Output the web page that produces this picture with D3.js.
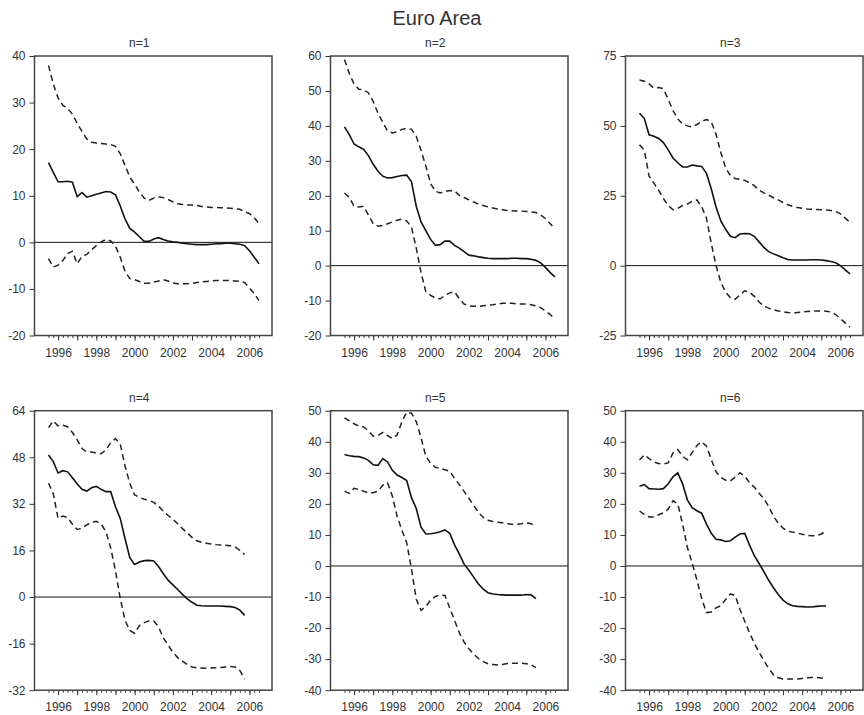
<!DOCTYPE html>
<html>
<head>
<meta charset="utf-8">
<script src="https://cdn.jsdelivr.net/npm/d3@7"></script>
<style>
  body { margin: 0; background: #fff; }
  svg text { font-family: "Liberation Sans", Arial, sans-serif; fill: #333; }
</style>
</head>
<body>
<svg id="chart" width="864" height="715"></svg>
<script>
// quarterly observations, first one is 1995Q3
const startYear = 1995.5;
const lastYear = 2006.5;

const panelTitles = ["n=1", "n=2", "n=3", "n=4", "n=5", "n=6"];
const yDomains = [[-20, 40], [-20, 60], [-25, 75], [-32, 64], [-40, 50], [-40, 50]];
const yTicks = [
  [-20, -10, 0, 10, 20, 30, 40],
  [-20, -10, 0, 10, 20, 30, 40, 50, 60],
  [-25, 0, 25, 50, 75],
  [-32, -16, 0, 16, 32, 48, 64],
  [-40, -30, -20, -10, 0, 10, 20, 30, 40, 50],
  [-40, -30, -20, -10, 0, 10, 20, 30, 40, 50]
];
const yearTicks = [1996, 1997, 1998, 1999, 2000, 2001, 2002, 2003, 2004, 2005, 2006];

// point estimate (solid) and bands (dashed)
const n1Mid = [17.1,15,13,13,13.1,12.9,9.8,10.7,9.7,10,10.3,10.6,10.9,10.8,10.2,7.8,5.0,3.0,2.2,1.2,0.2,0.2,0.7,1.0,0.6,0.3,0.1,0,-0.2,-0.3,-0.4,-0.5,-0.5,-0.5,-0.4,-0.3,-0.3,-0.2,-0.2,-0.3,-0.4,-0.7,-1.8,-3.2,-4.6];
const n1Up = [38,34,31,29.4,28.8,27.5,25.5,23.8,22.2,21.5,21.3,21.2,21.1,21,20.6,19,16.5,14,12.5,10.8,9.5,9,9.5,9.8,9.6,9.2,8.7,8.3,8.1,8.0,8.0,7.9,7.7,7.6,7.5,7.5,7.4,7.4,7.3,7.2,7.1,6.6,6.2,5.3,4.0];
const n1Lo = [-3.5,-5.3,-4.9,-3.9,-2.4,-1.9,-4.6,-3,-2.6,-1.6,-0.7,0.1,0.6,0.3,-0.8,-3.2,-6.2,-7.8,-8.0,-8.4,-8.8,-8.8,-8.5,-8.3,-8.0,-8.3,-8.7,-8.9,-8.9,-8.9,-8.8,-8.6,-8.5,-8.4,-8.3,-8.2,-8.2,-8.2,-8.2,-8.3,-8.4,-8.6,-9.8,-11,-12.5];

const n2Mid = [39.7,37.5,34.8,34,33.3,31.5,29,27,25.6,25.1,25.2,25.5,25.8,25.9,24,17,12.5,10,7.5,5.8,6,7,7,5.8,5,4,3,2.8,2.5,2.3,2.1,2,2,2,2,2.1,2.1,2,2,1.8,1.5,0.8,-0.5,-2,-3.2];
const n2Up = [59,55,52,50.5,50.3,49.5,47,43.6,41,38.5,38,38.3,39,39.3,39,37,33,28.5,23.5,21.3,20.8,21.2,21.5,21.4,20.1,19.5,18.8,18.2,17.6,17.2,16.8,16.5,16.2,16,15.8,15.7,15.6,15.6,15.5,15.4,15.2,14.5,13.5,12,10.5];
const n2Lo = [20.8,19.5,17,16.8,17,14.5,12,11.3,11.5,12,12.5,13,13.3,12.8,11,5,-2,-7.5,-8.5,-9.3,-9.5,-8.5,-7.8,-7.5,-9.5,-11,-11.5,-11.6,-11.7,-11.5,-11.3,-11.2,-11,-10.8,-10.8,-10.8,-10.9,-11,-11,-11.2,-11.5,-12,-13,-14,-15.2];

const n3Mid = [54.5,52.7,46.8,46.3,45.5,44,41.4,38.5,36.8,35.3,35.3,36,35.7,35.5,33,27.5,21,16,13,10.5,10,11.3,11.5,11.4,10.5,8.5,6.5,5,4.2,3.5,2.8,2.2,2,2,2,2,2.1,2.1,2,1.8,1.5,1,0,-1.5,-3];
const n3Up = [66.4,66,65,63.5,63.7,63.3,59.5,55.5,52.5,50.6,50,49.6,50.5,51.6,52.3,51.5,47,40.5,35,32.2,31.2,30.9,30.5,29.6,28.6,27,26,25.2,24.3,23.5,22.6,21.8,21.2,20.8,20.5,20.3,20.2,20.1,20,19.9,19.7,19.4,18.5,17,15.5];
const n3Lo = [43.2,41.4,32,29.5,27,24,21.5,20,20.5,21.5,22,23,23.5,21,17,8,0,-6,-9.5,-11.5,-12,-10.5,-9,-9.5,-11,-13,-14.5,-15.2,-15.8,-16.2,-16.5,-16.8,-17,-16.8,-16.6,-16.4,-16.3,-16.2,-16.2,-16.3,-16.6,-17.5,-19,-20.5,-22];

const n4Mid = [48.8,46.5,42.6,43.4,43,41,38.8,37,36.4,37.5,38,37,36.2,36.2,31,27,20,13.5,11.2,12,12.5,12.6,12.4,10.5,8,5.8,4.2,2.6,0.9,-0.6,-1.8,-2.8,-3,-3.1,-3.1,-3.1,-3.1,-3.2,-3.3,-3.6,-4.5,-6.3];
const n4Up = [58.2,60.5,58.8,59,58.5,56.5,54,51,49.9,49.8,49.4,49.2,50.5,53,54.4,52.5,45,39,35.1,34.2,33.6,33.2,32.5,31.2,29.5,28,26.8,25.2,23.5,22,20.5,19.3,18.8,18.5,18.2,18,17.9,17.8,17.6,17.2,16,14.6];
const n4Lo = [39.1,35.5,27,27.8,27.3,25,23.2,23.6,24.8,25.7,26,25,22.5,16.9,9,-0.5,-8,-11.5,-12.5,-9.8,-8.8,-8.2,-8.2,-10.2,-14,-16.5,-19,-20.8,-22,-23.2,-24,-24.3,-24.4,-24.5,-24.4,-24.3,-24.2,-24,-23.9,-24,-25.2,-28.2];

const n5Mid = [35.9,35.5,35.3,35.2,34.8,34,32.6,32.4,34.6,33.5,30.8,29.3,28.5,27.5,22,18.5,12.5,10.3,10.4,10.6,11,11.6,10.5,6.8,3.8,0.6,-1.4,-3.6,-5.8,-7.5,-8.6,-9,-9.2,-9.3,-9.4,-9.4,-9.4,-9.4,-9.2,-9.3,-10.5];
const n5Up = [47.7,46.7,45.8,45,44.8,43.5,41.8,42,43,42,41,42.2,46.5,49.5,49.2,46.5,41.3,35.3,33,31.8,31.4,31,30.5,28.2,26.2,24,21.8,19.5,17.3,15.6,14.7,14.3,14.1,13.9,13.6,13.4,13.4,13.6,14,13.6,12.8];
const n5Lo = [24.1,23.4,25,24.6,24.1,23.5,23.6,24.1,26,26.8,22.5,16,11.5,7.5,-1,-10.7,-14.3,-13,-11,-9.8,-9.3,-9.5,-13.5,-17.5,-21.5,-24.5,-26.7,-28.4,-29.8,-30.8,-31.5,-31.7,-31.9,-31.7,-31.4,-31.3,-31.3,-31.3,-31.5,-31.8,-32.7];

const n6Mid = [25.7,26.2,24.9,24.8,24.7,24.9,26.5,28.7,30,26.5,21.3,18.8,17.8,17,13.5,10.5,8.6,8.4,7.9,8.1,9.3,10.3,10.5,6.7,3.3,0.8,-1.8,-4.6,-7,-9.2,-11,-12.2,-12.8,-13,-13.1,-13.2,-13.2,-13,-12.9,-12.9];
const n6Up = [34.1,35.8,34.6,33.5,33,32.8,33.2,36.4,37.5,35.3,34.2,36.5,38.8,40,38.6,34.3,30.3,28.5,27.6,27.4,28.6,30,28.9,26.8,25.4,23.4,21.7,19.2,16,13.8,12.2,11.2,10.9,10.6,10.2,9.9,9.7,9.7,10.3,11.3];
const n6Lo = [17.7,16.6,15.8,15.8,16.5,17.1,18.3,21,20,13.5,6,1,-4.5,-10.5,-15,-14.8,-13.5,-12.8,-10.8,-9,-9.5,-14,-17.8,-21.5,-24.9,-27.8,-30.5,-33,-35,-36,-36.4,-36.4,-36.4,-36.4,-36.2,-36,-35.9,-35.9,-36.1,-36.2];

const mids = [n1Mid, n2Mid, n3Mid, n4Mid, n5Mid, n6Mid];
const ups = [n1Up, n2Up, n3Up, n4Up, n5Up, n6Up];
const los = [n1Lo, n2Lo, n3Lo, n4Lo, n5Lo, n6Lo];

const svg = d3.select("#chart");

svg.append("text")
  .attr("x", 437).attr("y", 25)
  .attr("text-anchor", "middle")
  .style("font-size", "20px")
  .text("Euro Area");

const colLeft = [34.5, 330.5, 625.5];
const rowTop = [56, 410.7];
const w = 237.5, h = 279.5;

const quarters = d3.range(0, 45).map(i => startYear + i * 0.25);

panelTitles.forEach((title, k) => {
  const left = colLeft[k % 3], top = rowTop[Math.floor(k / 3)];
  const g = svg.append("g").attr("transform", `translate(${left},${top})`);

  const x = d3.scaleLinear().domain([startYear, lastYear]).range([14, 224.5]);
  const y = d3.scaleLinear().domain(yDomains[k]).range([h, 0]);

  g.append("text")
    .attr("x", w / 2 - 14).attr("y", -9)
    .attr("text-anchor", "middle")
    .style("font-size", "12px")
    .text(title);

  // minor quarterly ticks
  const minor = g.append("g").attr("transform", `translate(0,${h})`)
    .call(d3.axisBottom(x).tickValues(quarters).tickSize(2.5).tickFormat(""));
  minor.select(".domain").remove();

  const xAxis = g.append("g").attr("transform", `translate(0,${h})`)
    .call(d3.axisBottom(x).tickValues(yearTicks).tickSize(5).tickPadding(7.5)
      .tickFormat(d => d % 2 === 0 ? String(d) : ""));
  xAxis.select(".domain").remove();
  xAxis.selectAll("text").style("font-size", "12px");

  // plain hyphen for negatives, like the original
  const yAxis = g.append("g")
    .call(d3.axisLeft(y).tickValues(yTicks[k]).tickSize(5).tickPadding(4)
      .tickFormat(d => String(d)));
  yAxis.select(".domain").remove();
  yAxis.selectAll("text").style("font-size", "12px");

  g.selectAll(".tick line").attr("stroke", "#333");

  g.append("line")
    .attr("x1", 0).attr("x2", w)
    .attr("y1", y(0)).attr("y2", y(0))
    .attr("stroke", "#111").attr("stroke-width", 1);

  const line = d3.line()
    .x((d, i) => x(startYear + i * 0.25))
    .y(d => y(d));

  [ups[k], los[k]].forEach(s => {
    g.append("path").datum(s)
      .attr("d", line)
      .attr("fill", "none")
      .attr("stroke", "#222")
      .attr("stroke-width", 1.5)
      .attr("stroke-dasharray", "6,4");
  });

  g.append("path").datum(mids[k])
    .attr("d", line)
    .attr("fill", "none")
    .attr("stroke", "#111")
    .attr("stroke-width", 1.6);

  g.append("rect")
    .attr("width", w).attr("height", h)
    .attr("fill", "none")
    .attr("stroke", "#444")
    .attr("stroke-width", 1.5);
});
</script>
</body>
</html>
